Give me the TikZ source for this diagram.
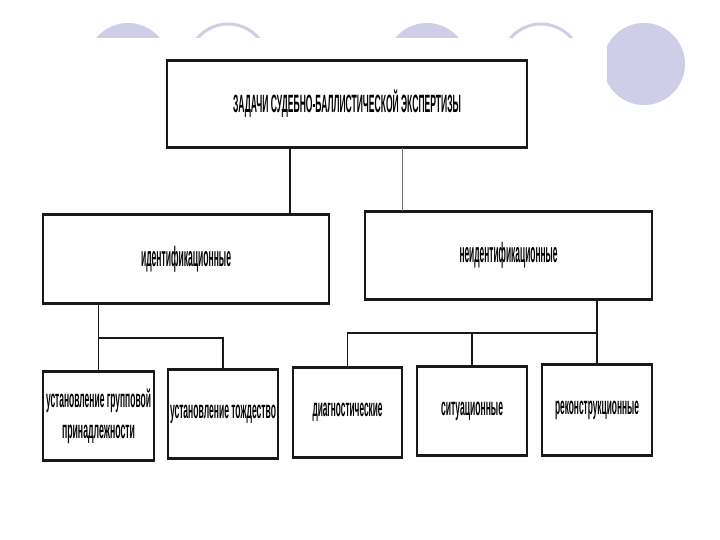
\documentclass[tikz,border=0pt]{standalone}
\usepackage{fontspec}
\setmainfont{Liberation Sans}
\usepackage{graphicx}
\definecolor{lav}{RGB}{206,206,232}
\definecolor{ink}{RGB}{25,25,25}
\newcommand{\sqz}[3]{\resizebox{#1pt}{\height}{\fontsize{#2}{#2}\selectfont\bfseries #3}}
\begin{document}
\begin{tikzpicture}[x=1pt,y=-1pt,
  box/.style={draw=ink, line width=1.3pt, fill=white, inner sep=0pt, rectangle, align=center},
  link/.style={draw=ink, line width=1.3pt},
  linkgray/.style={draw=black!55, line width=1pt},
  edge/.style={draw=ink, line width=2.8pt}]
\useasboundingbox (0,0) rectangle (720,540);
\fill[white] (0,0) rectangle (720,540);
% background decoration circles
\fill[lav] (128,64) circle (41);
\draw[lav, line width=3pt] (228,64) circle (40);
\fill[lav] (427,64) circle (41);
\draw[lav, line width=3pt] (541,64) circle (40);
\fill[lav] (644,64) circle (41);
% image area covering the circles
\fill[white] (40,38) rectangle (607,500);

% boxes
\node[box, minimum width=360pt, minimum height=86pt] (top) at (347,104)
  {\sqz{228}{25}{ЗАДАЧИ СУДЕБНО-БАЛЛИСТИЧЕСКОЙ ЭКСПЕРТИЗЫ}};
\node[box, minimum width=286pt, minimum height=88pt] (b2) at (186,259)
  {\sqz{90}{28}{идентификационные}};
\node[box, minimum width=287pt, minimum height=87pt] (b3) at (508.5,255.5)
  {\sqz{98}{28}{неидентификационные}};
\node[box, minimum width=111pt, minimum height=88pt, font=\fontsize{25}{31}\selectfont] (b4) at (98.5,416)
  {\sqz{105}{25}{установление групповой}\\\sqz{73}{25}{принадлежности}};
\node[box, minimum width=110pt, minimum height=88pt] (b5) at (223,414)
  {\sqz{106}{25}{установление тождество}};
\node[box, minimum width=109pt, minimum height=89pt] (b6) at (347.5,412.5)
  {\sqz{70}{25}{диагностические}};
\node[box, minimum width=110pt, minimum height=88pt] (b7) at (472,411)
  {\sqz{62}{25}{ситуационные}};
\node[box, minimum width=110pt, minimum height=90pt] (b8) at (597,410)
  {\sqz{84}{25}{реконструкционные}};

% thick top and bottom edges
\foreach \b in {top,b2,b3,b4,b5,b6,b7,b8}{
  \draw[edge] (\b.north west) -- (\b.north east);
  \draw[edge] (\b.south west) -- (\b.south east);
}

% connectors
\coordinate (j1) at (290,0);
\coordinate (j2) at (402,0);
\coordinate (h1) at (0,338);
\coordinate (h2) at (0,333);
\draw[link] (top.south -| j1) -- (b2.north -| j1);
\draw[linkgray] (top.south -| j2) -- (b3.north -| j2);
\draw[link] (b2.south -| b4.north) -- (b4.north);
\draw[link] (b4.north |- h1) -| (b5.north);
\draw[link] (b3.south -| b8.north) -- (b8.north);
\draw[link] (b8.north |- h2) -| (b6.north);
\draw[link] (b7.north |- h2) -- (b7.north);
\end{tikzpicture}
\end{document}
